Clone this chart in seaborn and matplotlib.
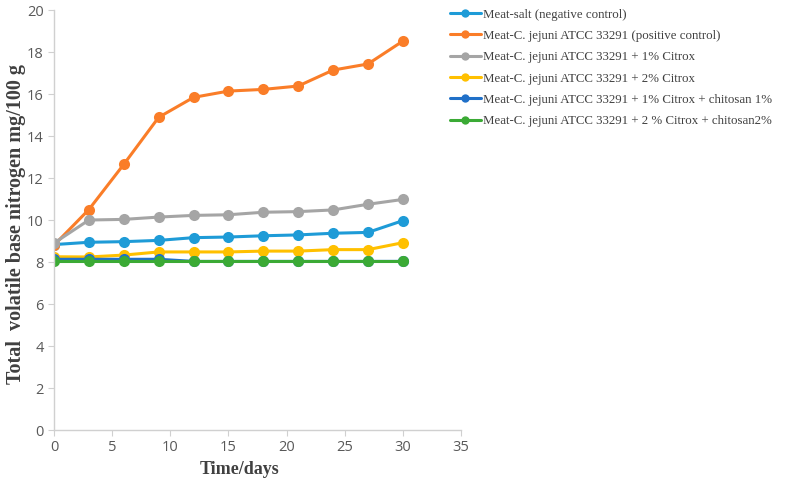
import matplotlib
matplotlib.use("Agg")
import matplotlib.pyplot as plt
import seaborn as sns
import pandas as pd

days = [0, 3, 6, 9, 12, 15, 18, 21, 24, 27, 30]
series_names = [
    "Meat-salt (negative control)",
    "Meat-C. jejuni ATCC 33291 (positive control)",
    "Meat-C. jejuni ATCC 33291 + 1% Citrox",
    "Meat-C. jejuni ATCC 33291 + 2% Citrox",
    "Meat-C. jejuni ATCC 33291 + 1% Citrox + chitosan 1%",
    "Meat-C. jejuni ATCC 33291 + 2 % Citrox + chitosan2%",
]
neg_control = [8.83, 8.94, 8.97, 9.03, 9.16, 9.19, 9.25, 9.29, 9.37, 9.41, 9.97]
pos_control = [8.80, 10.50, 12.65, 14.89, 15.84, 16.14, 16.22, 16.38, 17.14, 17.43, 18.52]
citrox1 = [8.90, 10.00, 10.03, 10.14, 10.22, 10.25, 10.37, 10.40, 10.48, 10.75, 10.98]
citrox2 = [8.25, 8.24, 8.33, 8.48, 8.48, 8.48, 8.52, 8.52, 8.59, 8.59, 8.92]
citrox1_chit1 = [8.13, 8.13, 8.13, 8.13, 8.03, 8.03, 8.03, 8.03, 8.03, 8.03, 8.03]
citrox2_chit2 = [8.03, 8.03, 8.03, 8.03, 8.03, 8.03, 8.03, 8.03, 8.03, 8.03, 8.03]
colors = ["#1E9BD7", "#FA7D28", "#A5A5A5", "#FFC000", "#2070C8", "#3BAA35"]

values = [neg_control, pos_control, citrox1, citrox2, citrox1_chit1, citrox2_chit2]
df = pd.DataFrame({
    "day": days * len(series_names),
    "tvbn": [v for s in values for v in s],
    "series": [n for n in series_names for _ in days],
})

sns.set_style("white")
fig = plt.figure(figsize=(7.86, 4.91), dpi=100)
ax = fig.add_axes([0.0687, 0.1242, 0.5178, 0.8554])

sns.lineplot(data=df, x="day", y="tvbn", hue="series", hue_order=series_names,
             palette=colors, marker="o", markersize=8, markeredgewidth=0,
             linewidth=2.2, ax=ax, legend=True)

ax.set_xlim(0, 35)
ax.set_ylim(0, 20)
ax.set_xticks(range(0, 36, 5))
ax.set_yticks(range(0, 21, 2))
for sp in ["top", "right"]:
    ax.spines[sp].set_visible(False)
for sp in ["left", "bottom"]:
    ax.spines[sp].set_color("#D0D0D0")
    ax.spines[sp].set_linewidth(1.0)
ax.tick_params(axis="both", which="major", length=4, color="#D0D0D0",
               labelcolor="#595959", labelsize=10.5, direction="out",
               bottom=True, left=True)
for lab in ax.get_xticklabels() + ax.get_yticklabels():
    lab.set_family("Open Sans")

ax.set_xlabel("Time/days", fontsize=13, fontweight="bold",
              family="Liberation Serif", color="#404040")
ax.xaxis.set_label_coords(0.457, -0.074)
ax.set_ylabel("Total  volatile base nitrogen mg/100 g", fontsize=14.5,
              fontweight="bold", family="Liberation Serif", color="#404040")
ax.yaxis.set_label_coords(-0.068, 0.49)

handles, labels = ax.get_legend_handles_labels()
leg = ax.legend(handles, labels, loc="upper left", bbox_to_anchor=(0.96, 1.016),
                frameon=False, prop={"family": "Liberation Serif", "size": 9.3},
                labelspacing=0.72, handlelength=2.4, handletextpad=0.2,
                borderaxespad=0)
for t in leg.get_texts():
    t.set_color("#404040")
for h in leg.legend_handles:
    h.set_markersize(6)

fig.savefig("out.png", dpi=100)
